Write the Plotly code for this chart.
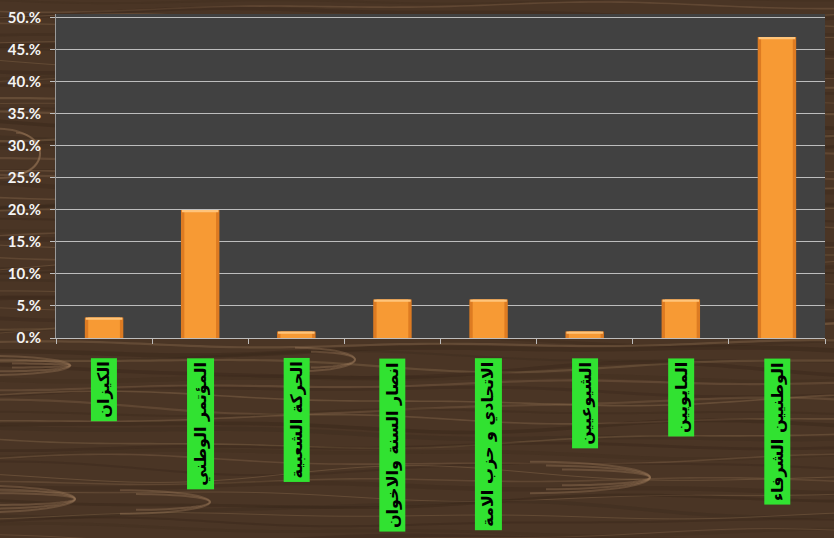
import math
import plotly.graph_objects as go

# Party names (x categories) and their share of responses in percent
categories = [
    "الكيزان",
    "المؤتمر الوطني",
    "الحركة الشعبية",
    "انصار السنة والاخوان",
    "الاتحادي و حزب الامة",
    "الشيوعيين",
    "المايويين",
    "الوطنيين الشرفاء",
]
shares = [3.2, 20, 1, 6, 6, 1, 6, 47]
tick_values = [0, 5, 10, 15, 20, 25, 30, 35, 40, 45, 50]
tick_labels = ["0.%", "5.%", "10.%", "15.%", "20.%", "25.%", "30.%", "35.%", "40.%", "45.%", "50.%"]

W, H = 834, 538
ML, MR, MT, MB = 56, 9, 8, 200
PW, PH = W - ML - MR, H - MT - MB


def px_to_paper(px, py):
    return (px - ML) / PW, (H - MB - py) / PH


def path_from(points):
    parts = []
    for i, (px, py) in enumerate(points):
        x, y = px_to_paper(px, py)
        parts.append(("M" if i == 0 else "L") + f"{x:.4f},{y:.4f}")
    return " ".join(parts)


shapes = []

# wood grain: dense wavy horizontal streaks across the whole page
for i in range(80):
    y0 = -6 + i * 7.0
    amp = 2 + (i % 5) * 1.3
    freq = 0.005 + (i % 7) * 0.0009
    phase = i * 1.37
    pts = []
    for px in range(-10, W + 20, 10):
        py = y0 + amp * math.sin(px * freq + phase) + 2.0 * math.sin(px * 0.017 + i * 0.7)
        pts.append((px, py))
    level = ((i * 7) % 11) / 10
    if level > 0.55:
        color = f"rgba(150,118,85,{0.12 + 0.25 * level:.2f})"
        width = 1.0 + (i % 3) * 0.6
    else:
        color = f"rgba(45,31,20,{0.15 + 0.3 * level:.2f})"
        width = 2.0 + (i % 4) * 0.8
    shapes.append(dict(
        type="path", xref="paper", yref="paper", layer="below",
        path=path_from(pts), line=dict(color=color, width=width),
    ))

# knots: nested rings in the grain, tips pointing right
for cx, cy, rx, ry, n in [(70, 366, 90, 10, 3), (75, 502, 110, 14, 3), (210, 505, 90, 12, 2),
                          (355, 360, 60, 12, 2), (650, 480, 120, 16, 3),
                          (40, 150, 40, 25, 2)]:
    for k in range(n):
        a = rx - k * 16
        b = ry - k * 4
        pts = []
        for t in range(-90, 91, 6):
            r = math.radians(t)
            pts.append((cx + a * math.cos(r) - a, cy + b * math.sin(r)))
        shapes.append(dict(
            type="path", xref="paper", yref="paper", layer="below",
            path=path_from(pts), line=dict(color="rgba(170,135,98,0.32)", width=2),
        ))

# dark plotting panel on top of the grain
shapes.append(dict(type="rect", xref="paper", yref="paper", layer="below",
                   x0=0, x1=1, y0=0, y1=1, fillcolor="#414141", line=dict(width=0)))

fig = go.Figure()

# bar body with darker rim, brighter core and a light top edge
fig.add_trace(go.Bar(x=categories, y=shares, width=0.40,
                     marker=dict(color="#dd7b22", line=dict(width=0)), hoverinfo="skip"))
fig.add_trace(go.Bar(x=categories, y=shares, width=0.33,
                     marker=dict(color="#f79a34", line=dict(width=0)), hoverinfo="x+y"))
cap = 0.35
fig.add_trace(go.Bar(x=categories, y=[cap] * len(shares), base=[v - cap for v in shares], width=0.38,
                     marker=dict(color="#ffc47a", line=dict(width=0)), hoverinfo="skip"))

# category labels on green boxes, rotated below the axis
label_top = (H - MB - 358) / PH
annotations = []
for c in categories:
    annotations.append(dict(
        x=c, xref="x", y=label_top, yref="paper",
        text=c, showarrow=False, textangle=-90,
        xanchor="center", yanchor="top",
        bgcolor="#31e231", borderpad=3,
        font=dict(family="DejaVu Sans", size=16, color="#000000", weight="bold"),
    ))

fig.update_layout(
    width=W, height=H,
    margin=dict(l=ML, r=MR, t=MT, b=MB),
    paper_bgcolor="#4a3525",
    plot_bgcolor="rgba(0,0,0,0)",
    barmode="overlay",
    showlegend=False,
    shapes=shapes,
    annotations=annotations,
    xaxis=dict(
        type="category", showticklabels=False, showgrid=False,
        showline=True, linecolor="#bdbdbd", linewidth=1,
        ticks="outside", tickson="boundaries", ticklen=5, tickcolor="#bdbdbd",
        range=[-0.5, len(categories) - 0.5],
    ),
    yaxis=dict(
        range=[0, 50.6], tickvals=tick_values, ticktext=tick_labels,
        showgrid=True, gridcolor="#bdbdbd", gridwidth=1,
        showline=True, linecolor="#9a9a9a", linewidth=1,
        ticks="outside", ticklen=5, tickcolor="#bdbdbd",
        ticklabelstandoff=6,
        zeroline=False,
        tickfont=dict(family="Lato", size=15, color="#f4f4f4", weight="bold"),
    ),
)

fig.write_html("out.html")
